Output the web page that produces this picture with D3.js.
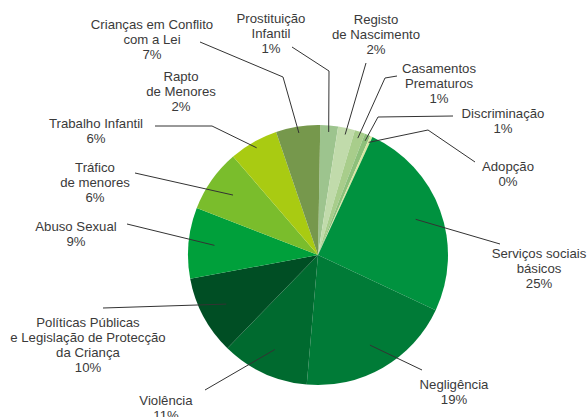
<!DOCTYPE html>
<html>
<head>
<meta charset="utf-8">
<script src="https://cdn.jsdelivr.net/npm/d3@7"></script>
<style>
  body { margin: 0; background: #fff; }
  text { font-family: "Liberation Sans", Arial, sans-serif; font-size: 13.2px; fill: #3a3a3a; }
  .leader { fill: none; stroke: #333; stroke-width: 1; }
</style>
</head>
<body>
<div class="piechart"></div>
<script>
// categories clockwise from 12 o'clock
var categories = [
  ["Prostituição", "Infantil"],
  ["Registo", "de Nascimento"],
  ["Casamentos", "Prematuros"],
  ["Discriminação"],
  ["Adopção"],
  ["Serviços sociais", "básicos"],
  ["Negligência"],
  ["Violência"],
  ["Políticas Públicas", "e Legislação de Protecção", "da Criança"],
  ["Abuso Sexual"],
  ["Tráfico", "de menores"],
  ["Trabalho Infantil"],
  ["Rapto", "de Menores"],
  ["Crianças em Conflito", "com a Lei"]
];
// printed percentages
var pctLabels = ["1%", "2%", "1%", "1%", "0%", "25%", "19%", "11%", "10%", "9%", "6%", "6%", "2%", "7%"];
// slice shares as drawn in the picture
var shares = [2.2, 2.1, 1.3, 0.7, 0.3, 25.1, 19.4, 10.9, 9.8, 8.8, 7.8, 6.1, 0, 5.5];
var colors = ["#9dc48e", "#c1dbab", "#a8cd8b", "#8dc07a", "#d8e6a2", "#00923f", "#007b37", "#006a2f",
              "#004e24", "#00a03b", "#7abd2c", "#a9cb12", "#8fb83a", "#76984c"];

// label placement: text centre x, first line centre y, bend points of the leader line
var labelLayout = [
  {x: 271, y: 18, pts: [[292, 47], [329, 71]]},
  {x: 376, y: 19, pts: [[366, 63]]},
  {x: 439, y: 68, pts: [[397, 76], [385, 78]]},
  {x: 503, y: 113, pts: [[453, 116], [378, 117]]},
  {x: 508, y: 166, pts: [[475, 162], [428, 130]]},
  {x: 539, y: 253, pts: [[500, 244]]},
  {x: 454, y: 384, pts: [[422, 370]]},
  {x: 166, y: 400, pts: [[205, 390]]},
  {x: 88, y: 322, pts: [[103, 308]]},
  {x: 76, y: 226, pts: [[127, 224]]},
  {x: 95, y: 167, pts: [[135, 173]]},
  {x: 96, y: 123, pts: [[155, 126], [212, 126]]},
  {x: 181, y: 76, pts: null},
  {x: 152, y: 24, pts: [[200, 42], [283, 77]]}
];

var width = 588, height = 417,
    cx = 318, cy = 255, radius = 130,
    lineH = 15;

var data = categories.map(function (c, i) {
  return {name: c, pct: pctLabels[i], value: shares[i], color: colors[i], layout: labelLayout[i]};
});

var start = 1 * Math.PI / 180;
var pie = d3.pie()
  .sort(null)
  .value(function (d) { return d.value; })
  .startAngle(start)
  .endAngle(start + 2 * Math.PI);

var arc = d3.arc()
  .innerRadius(0)
  .outerRadius(radius);

var svg = d3.select(".piechart").append("svg")
    .attr("width", width)
    .attr("height", height);

var g = svg.append("g")
    .attr("transform", "translate(" + cx + "," + cy + ")");

var arcs = pie(data);

g.selectAll("path.slice")
  .data(arcs)
  .enter().append("path")
    .attr("class", "slice")
    .attr("d", arc)
    .attr("fill", function (d) { return d.data.color; });

// leader lines end inside the slice, deeper for the wide ones
function innerEnd(d) {
  var span = (d.endAngle - d.startAngle) * 180 / Math.PI;
  var r = span > 25 ? radius * 0.8 : radius * 0.95;
  var a = (d.startAngle + d.endAngle) / 2;
  return [cx + r * Math.sin(a), cy - r * Math.cos(a)];
}

var line = d3.line();

svg.selectAll("path.leader")
  .data(arcs.filter(function (d) { return d.data.layout.pts; }))
  .enter().append("path")
    .attr("class", "leader")
    .attr("d", function (d) {
      return line(d.data.layout.pts.concat([innerEnd(d)]));
    });

var labels = svg.selectAll("text.label")
  .data(data)
  .enter().append("text")
    .attr("class", "label")
    .attr("text-anchor", "middle");

labels.each(function (d) {
  var lines = d.name.concat([d.pct]);
  var t = d3.select(this);
  lines.forEach(function (s, i) {
    t.append("tspan")
      .attr("x", d.layout.x)
      .attr("y", d.layout.y + i * lineH + 4.5)
      .text(s);
  });
});
</script>
</body>
</html>
